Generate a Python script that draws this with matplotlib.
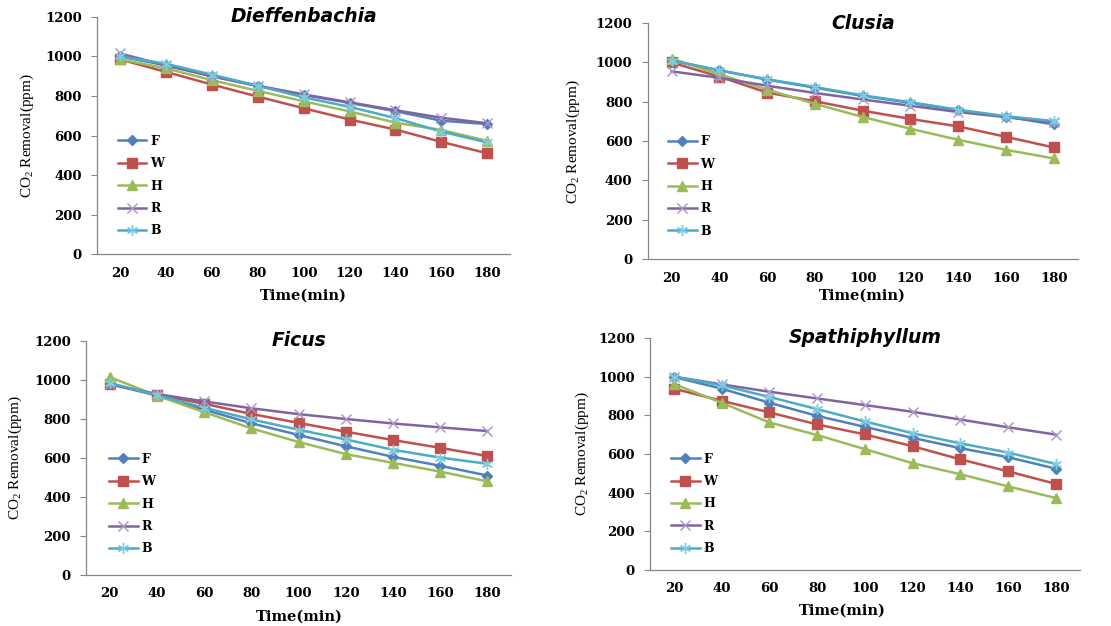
import matplotlib
matplotlib.use('Agg')
import matplotlib.pyplot as plt

times = ['20', '40', '60', '80', '100', '120', '140', '160', '180']
series = ['F', 'W', 'H', 'R', 'B']

# CO2 removal (ppm)
dieffenbachia = {
    'F': [1000, 955, 900, 850, 805, 765, 723, 675, 658],
    'W': [985, 922, 858, 797, 738, 681, 630, 568, 510],
    'H': [985, 940, 880, 826, 773, 722, 665, 628, 573],
    'R': [1015, 955, 900, 852, 808, 768, 728, 690, 662],
    'B': [1000, 963, 908, 852, 793, 745, 688, 620, 565],
}
clusia = {
    'F': [1010, 960, 913, 872, 830, 795, 757, 725, 685],
    'W': [1000, 928, 847, 803, 755, 713, 675, 622, 568],
    'H': [1020, 940, 862, 790, 723, 663, 607, 556, 512],
    'R': [955, 922, 882, 845, 812, 780, 748, 722, 695],
    'B': [1010, 960, 915, 875, 833, 798, 760, 727, 702],
}
ficus = {
    'F': [980, 920, 848, 778, 718, 660, 606, 560, 510],
    'W': [980, 925, 878, 826, 780, 735, 692, 652, 610],
    'H': [1015, 920, 835, 752, 682, 620, 575, 530, 480],
    'R': [978, 928, 890, 855, 825, 800, 777, 757, 738],
    'B': [985, 922, 858, 798, 745, 695, 642, 602, 570],
}
spathiphyllum = {
    'F': [998, 938, 865, 797, 740, 683, 630, 583, 524],
    'W': [938, 875, 815, 753, 701, 640, 572, 510, 445],
    'H': [962, 865, 763, 698, 625, 552, 495, 432, 372],
    'R': [1000, 960, 922, 887, 853, 818, 778, 738, 700],
    'B': [1000, 955, 895, 832, 768, 707, 655, 607, 548],
}

colors = {'F': '#4F81BD', 'W': '#C0504D', 'H': '#9BBB59', 'R': '#8064A2', 'B': '#4BACC6'}
marker_edge = {'F': '#4F81BD', 'W': '#C0504D', 'H': '#9BBB59', 'R': '#A993C8', 'B': '#7FCBE0'}
markers = {'F': 'D', 'W': 's', 'H': '^', 'R': 'x', 'B': (6, 2, 0)}
msizes = {'F': 5, 'W': 7, 'H': 7, 'R': 7, 'B': 8}

tick_font = {'family': 'DejaVu Serif', 'weight': 'bold', 'size': 9.5}
axis_grey = '#868686'

panels = [
    # name, data, axes rect, ylabel x, xlabel y, xlabel x, legend x, legend y
    ('Dieffenbachia', dieffenbachia, [0.0873, 0.594, 0.372, 0.379], -0.169, -0.177, 0.50, 0.05, 0.287),
    ('Clusia', clusia, [0.583, 0.586, 0.387, 0.377], -0.174, -0.153, 0.50, 0.047, 0.308),
    ('Ficus', ficus, [0.0774, 0.0815, 0.3826, 0.3738], -0.167, -0.18, 0.503, 0.054, 0.303),
    ('Spathiphyllum', spathiphyllum, [0.585, 0.0895, 0.387, 0.3706], -0.158, -0.177, 0.447, 0.049, 0.285),
]

fig = plt.figure(figsize=(11.11, 6.26), dpi=100)
fig.patch.set_facecolor('white')

for name, data, rect, ylx, xly, xlx, lgx, lgy in panels:
    ax = fig.add_axes(rect)
    x = range(len(times))
    for s in series:
        ax.plot(x, data[s], color=colors[s], linewidth=1.8,
                marker=markers[s], markersize=msizes[s],
                markerfacecolor=colors[s], markeredgecolor=marker_edge[s],
                markeredgewidth=1.0, label=s)
    ax.set_xlim(-0.5, len(times) - 0.5)
    ax.set_ylim(0, 1200)
    ax.set_yticks(range(0, 1201, 200))
    ax.set_xticks(list(x))
    ax.set_xticklabels(times, fontdict=tick_font)
    ax.set_yticklabels([str(v) for v in range(0, 1201, 200)], fontdict=tick_font)
    for sp in ['top', 'right']:
        ax.spines[sp].set_visible(False)
    for sp in ['left', 'bottom']:
        ax.spines[sp].set_color(axis_grey)
        ax.spines[sp].set_linewidth(0.9)
    ax.tick_params(axis='y', direction='out', length=4, color=axis_grey, pad=7)
    ax.tick_params(axis='x', length=0, pad=9)
    ax.set_facecolor('none')

    ax.set_ylabel('CO$_\\mathregular{2}$ Removal(ppm)', family='Liberation Serif', size=11, va='center')
    ax.yaxis.set_label_coords(ylx, 0.5)
    ax.set_xlabel('Time(min)', family='DejaVu Serif', weight='bold', size=10.5, va='center')
    ax.xaxis.set_label_coords(xlx, xly)

    ax.text(0.5, 1.0, name, transform=ax.transAxes, ha='center', va='center',
            family='DejaVu Sans', style='italic', weight='bold', size=13.5)

    ax.legend(loc='center left', bbox_to_anchor=(lgx, lgy), frameon=False,
              prop={'family': 'DejaVu Serif', 'weight': 'bold', 'size': 9},
              handlelength=2.3, handletextpad=0.3, labelspacing=0.75,
              borderpad=0, borderaxespad=0)

fig.savefig('out.png', dpi=100)
